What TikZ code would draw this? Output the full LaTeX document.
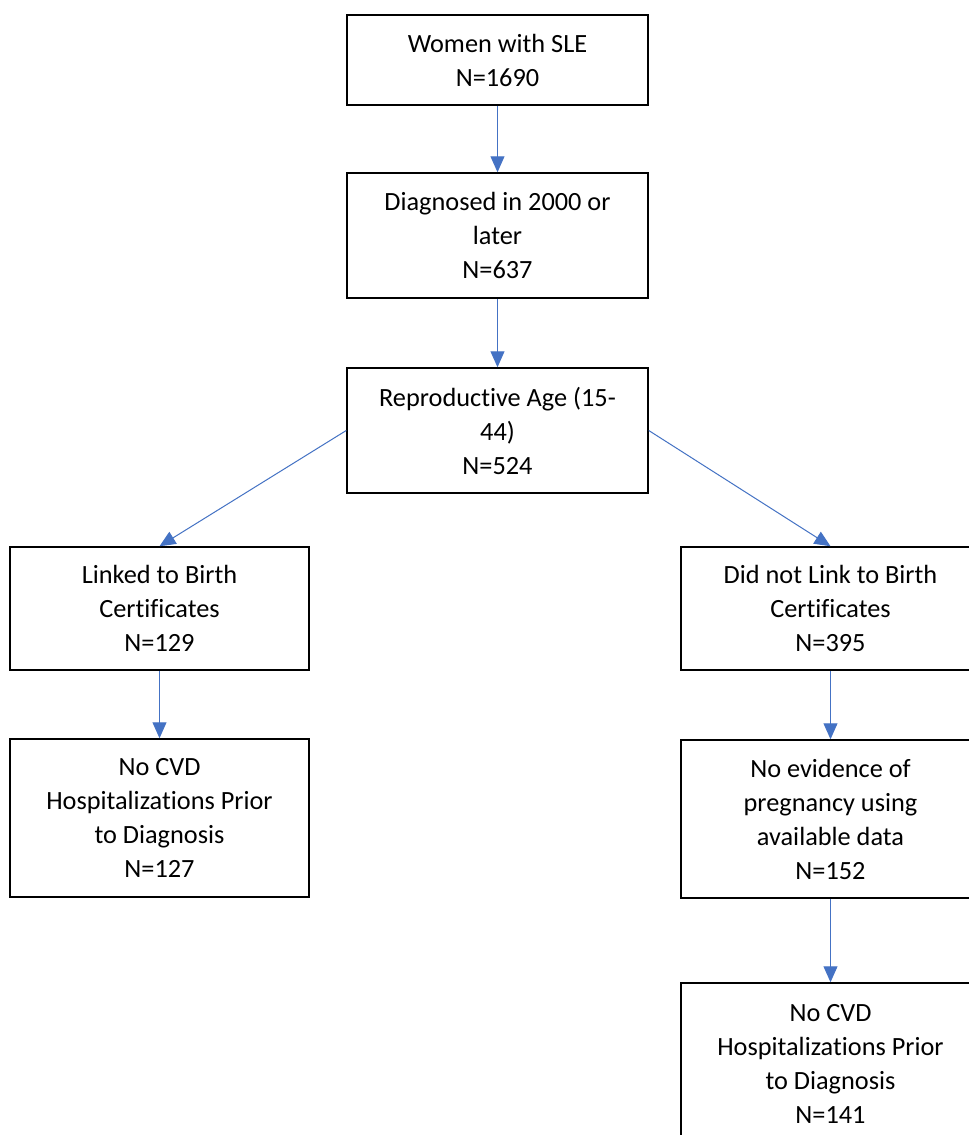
\documentclass[tikz,border=0pt]{standalone}
\usepackage{fontspec}
\setmainfont[Ligatures=NoCommon]{Carlito}
\usetikzlibrary{arrows.meta}
\definecolor{arrowblue}{HTML}{4472C4}
\tikzset{
  box/.style={draw=black, line width=1.5pt, fill=white, align=center, inner sep=0pt,
    font=\fontsize{26.3}{34}\selectfont, minimum width=#1},
  box/.default=301pt,
  conn/.style={draw=arrowblue, line width=1pt, -{Triangle[length=16pt,width=14pt]}}
}
\begin{document}
\begin{tikzpicture}[x=1pt,y=-1pt]
\clip (0,0) rectangle (969,1135);
\fill[white] (0,0) rectangle (969,1135);
\node[box, minimum height=90pt] (b1) at (497.5,60) {Women with SLE\\N=1690};
\node[box, minimum height=125pt] (b2) at (497.5,235.5) {Diagnosed in 2000 or\\later\\N=637};
\node[box, minimum height=125pt] (b3) at (497.5,430.5) {Reproductive Age (15-\\44)\\N=524};
\node[box=299pt, minimum height=123pt] (b4) at (159.5,608.5) {Linked to Birth\\Certificates\\N=129};
\node[box=299pt, minimum height=123pt] (b5) at (830.5,608.5) {Did not Link to Birth\\Certificates\\N=395};
\node[box=299pt, minimum height=158pt] (b6) at (159.5,818) {No CVD\\Hospitalizations Prior\\to Diagnosis\\N=127};
\node[box=299pt, minimum height=158pt] (b7) at (830.5,819) {No evidence of\\pregnancy using\\available data\\N=152};
\node[box=299pt, minimum height=162pt] (b8) at (830.5,1064) {No CVD\\Hospitalizations Prior\\to Diagnosis\\N=141};
\draw[conn] (b1) -- (b2);
\draw[conn] (b2) -- (b3);
\draw[conn] (b3.west) -- (b4.north);
\draw[conn] (b3.east) -- (b5.north);
\draw[conn] (b4) -- (b6);
\draw[conn] (b5) -- (b7);
\draw[conn] (b7) -- (b8);
\end{tikzpicture}
\end{document}
